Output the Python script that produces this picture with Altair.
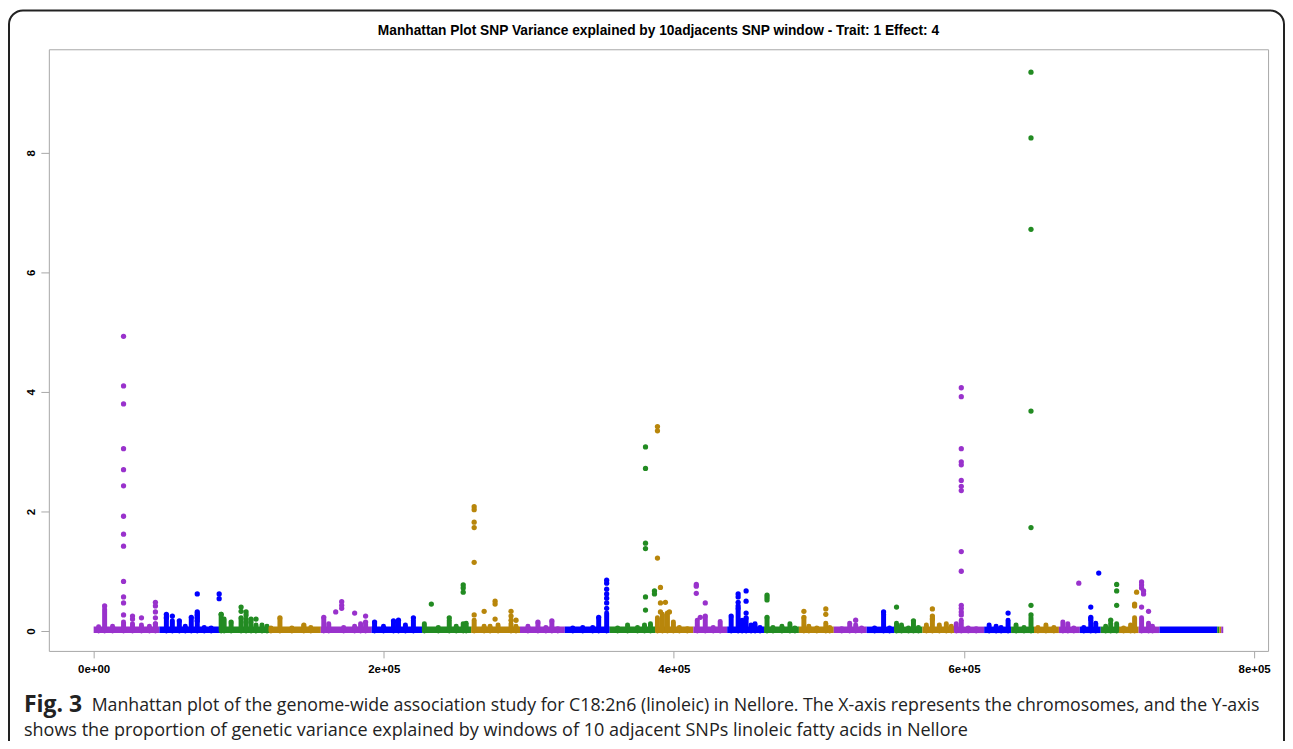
import altair as alt
import numpy as np
import pandas as pd

# ---- chromosome layout (cumulative SNP-window index) ----
chrom_start = [0, 45322, 87211, 121546, 156568, 191589, 226611, 260259, 293907, 324809,
               355711, 387299, 413393, 436741, 462149, 486184, 510218, 532879, 552107, 571334,
               593309, 613910, 632451, 648245, 665412, 679833, 694254, 706615, 720349, 734769,
               774598, 775971, 777345]
genome_end = 778718
palette = ["#9932CC", "#0000FF", "#228B22", "#B8860B"]
band_level = 0.02

# ---- dense columns of windows (top of each column) ----
stick_pos = [3434, 7554, 13047, 20601, 26781, 32962, 38455, 42575,
             50129, 54249, 59056, 63176, 67297, 71417, 76224, 81030,
             87898, 89958, 94765, 101632, 105065, 108499, 111932, 116052, 119486,
             122233, 128413, 136653, 144894, 149701,
             158628, 162061, 172361, 179915, 184036, 187469,
             193649, 199830, 206697, 210130, 214937, 220431,
             227984, 237598, 245152, 249959, 254766, 256826,
             262319, 269186, 273307, 278800, 287727, 291161,
             299401, 306268, 311762, 315882, 320002,
             330303, 337170, 344037, 348157, 353651,
             361204, 368071, 374938, 379745, 383865,
             388672, 392106, 395539, 399659, 403780, 409273,
             416140, 421634, 427127, 431934,
             439488, 444295, 447042, 449789, 453222, 455969, 459402,
             464209, 468329, 474510, 480003, 483437,
             489617, 493050, 498544, 504724, 507471,
             515712, 521205, 525326, 529446,
             538373, 544553, 548673,
             553480, 556914, 561721, 565154, 568588,
             574081, 578201, 583008, 587815, 591249,
             594682, 598116, 602923, 608416,
             617343, 622150, 625584, 630391,
             635884, 641378, 646185,
             650992, 656485, 661979,
             668159, 671593, 675713,
             682580, 687387, 690820,
             697687, 701121, 705241,
             710048, 714855, 717602,
             722409, 727216, 729963]
stick_top = [0.07, 0.37, 0.08, 0.15, 0.12, 0.10, 0.08, 0.12,
             0.25, 0.17, 0.15, 0.08, 0.20, 0.30, 0.06, 0.05,
             0.28, 0.20, 0.12, 0.20, 0.15, 0.18, 0.10, 0.10, 0.08,
             0.05, 0.20, 0.05, 0.08, 0.06,
             0.20, 0.12, 0.06, 0.08, 0.12, 0.12,
             0.13, 0.08, 0.15, 0.15, 0.10, 0.18,
             0.12, 0.06, 0.18, 0.08, 0.12, 0.13,
             0.18, 0.08, 0.08, 0.10, 0.12, 0.08,
             0.08, 0.13, 0.06, 0.15, 0.04,
             0.05, 0.06, 0.06, 0.20, 0.30,
             0.05, 0.10, 0.06, 0.10, 0.12,
             0.22, 0.28, 0.30, 0.15, 0.06, 0.04,
             0.18, 0.22, 0.06, 0.16,
             0.22, 0.35, 0.18, 0.20, 0.10, 0.12, 0.06,
             0.20, 0.06, 0.08, 0.12, 0.05,
             0.20, 0.08, 0.05, 0.13, 0.06,
             0.04, 0.13, 0.10, 0.05,
             0.05, 0.28, 0.05,
             0.13, 0.10, 0.05, 0.15, 0.06,
             0.10, 0.22, 0.10, 0.12, 0.08,
             0.12, 0.18, 0.05, 0.04,
             0.10, 0.08, 0.06, 0.18,
             0.10, 0.06, 0.22,
             0.06, 0.10, 0.06,
             0.15, 0.12, 0.05,
             0.06, 0.18, 0.13,
             0.08, 0.13, 0.12,
             0.05, 0.10, 0.22,
             0.22, 0.13, 0.08]

# ---- individual windows standing above the band ----
point_pos = ([20601] * 13 + [7554] + [26781] * 2 + [32962] + [42575] * 5 +
             [50129] * 2 + [54249] + [59056] + [67297] + [71417] * 5 + [86524] * 2 +
             [87898] + [94765] + [101632] * 3 + [105065] * 4 + [108499] + [111932] +
             [128413] + [144894] +
             [158628] + [166868] + [170988] * 3 + [179915] + [187469] * 2 +
             [193649] + [206697] + [210130] + [220431] +
             [232791] + [245152] + [254766] * 3 +
             [262319] * 6 + [269186] + [276740] * 3 + [287727] * 3 + [291161] +
             [306268] + [315882] +
             [348157] + [353651] * 7 +
             [380432] * 6 + [386612] * 2 +
             [388672] * 3 + [390732] * 3 + [394166] + [396913] +
             [415454] * 3 + [418200] + [421634] * 2 +
             [439488] + [444295] * 5 + [449789] * 4 +
             [464209] * 4 +
             [489617] * 2 + [504724] * 2 +
             [525326] + [544553] + [553480] + [565154] + [578201] * 3 +
             [598116] * 14 + [630391] + [646185] * 7 +
             [679146] + [687387] * 3 + [692880] +
             [701121] + [705241] * 3 +
             [717602] * 2 + [718975] +
             [722409] * 4 + [723782] * 2 + [727216])
point_val = [4.93, 4.10, 3.80, 3.05, 2.70, 2.43, 1.92, 1.62, 1.42, 0.83, 0.57, 0.47, 0.27,
             0.42, 0.25, 0.20, 0.22, 0.48, 0.42, 0.32, 0.22, 0.12,
             0.28, 0.22, 0.25, 0.17, 0.23, 0.62, 0.32, 0.27, 0.22, 0.17, 0.62, 0.54,
             0.28, 0.15, 0.40, 0.33, 0.22, 0.32, 0.27, 0.20, 0.15, 0.20, 0.20,
             0.22, 0.10,
             0.23, 0.32, 0.49, 0.43, 0.38, 0.30, 0.25, 0.15,
             0.15, 0.17, 0.18, 0.22,
             0.45, 0.22, 0.77, 0.72, 0.65,
             2.08, 2.03, 1.82, 1.73, 1.15, 0.27, 0.33, 0.50, 0.45, 0.20, 0.33, 0.25, 0.18, 0.18,
             0.15, 0.17,
             0.23, 0.85, 0.80, 0.70, 0.62, 0.55, 0.47, 0.38,
             3.08, 2.72, 1.47, 1.38, 0.57, 0.35, 0.67, 0.62,
             3.42, 3.35, 1.22, 0.73, 0.47, 0.32, 0.48, 0.32,
             0.78, 0.75, 0.63, 0.23, 0.47, 0.25,
             0.25, 0.62, 0.57, 0.48, 0.42, 0.38, 0.67, 0.50, 0.30, 0.22,
             0.60, 0.56, 0.52, 0.23,
             0.33, 0.23, 0.37, 0.28,
             0.18, 0.32, 0.40, 0.17, 0.37, 0.25, 0.20,
             4.07, 3.92, 3.05, 2.83, 2.78, 2.52, 2.42, 2.35, 1.33, 1.00, 0.43, 0.38, 0.32, 0.27,
             0.30, 9.35, 8.25, 6.72, 3.68, 1.73, 0.43, 0.27,
             0.80, 0.40, 0.23, 0.20, 0.97,
             0.18, 0.78, 0.67, 0.43,
             0.45, 0.42, 0.65,
             0.82, 0.77, 0.72, 0.40, 0.67, 0.62, 0.33]

x_ticks = [0, 200000, 400000, 600000, 800000]
y_ticks = [0, 2, 4, 6, 8]
x_domain = [-30901, 809614]
y_domain = [-0.333, 9.733]

title_text = "Manhattan Plot SNP Variance explained by 10adjacents SNP window - Trait: 1 Effect: 4"
caption_bold = "Fig. 3"
caption_line1 = ("Manhattan plot of the genome-wide association study for C18:2n6 (linoleic) in Nellore. "
                 "The X-axis represents the chromosomes, and the Y-axis")
caption_line2 = ("shows the proportion of genetic variance explained by windows of 10 adjacent SNPs "
                 "linoleic fatty acids in Nellore")

# ---- tables ----
starts = np.array(chrom_start)
ends = np.array(chrom_start[1:] + [genome_end])
band_df = pd.DataFrame({"pos": starts, "end": ends,
                        "val": band_level,
                        "ck": [str(i % 4) for i in range(len(starts))]})


def chrom_key(pos):
    idx = np.searchsorted(starts, np.array(pos), side="right") - 1
    return [str(i % 4) for i in idx]


stick_df = pd.DataFrame({"pos": stick_pos, "val": 0.0, "top": stick_top, "ck": chrom_key(stick_pos)})
point_df = pd.DataFrame({"pos": point_pos, "val": point_val, "ck": chrom_key(point_pos)})

xs = alt.Scale(domain=x_domain, nice=False, zero=False)
ys = alt.Scale(domain=y_domain, nice=False, zero=False)
cs = alt.Scale(domain=["0", "1", "2", "3"], range=palette)
LAB_FONT = "Liberation Sans"

x_axis = alt.Axis(values=x_ticks, title=None, grid=False, domain=False, tickColor="#a8a8a8",
                  tickSize=7, labelFont=LAB_FONT, labelFontSize=11.5, labelFontWeight="bold",
                  labelColor="#000000", labelPadding=6,
                  labelExpr="datum.value == 0 ? '0e+00' : format(datum.value / 100000, 'd') + 'e+05'")
y_axis = alt.Axis(values=y_ticks, title=None, grid=False, domain=False, tickColor="#a8a8a8",
                  tickSize=8, labelFont=LAB_FONT, labelFontSize=11.5, labelFontWeight="bold",
                  labelColor="#000000", labelAngle=270, labelPadding=4,
                  labelAlign="center", labelBaseline="bottom")

X = alt.X("pos:Q", scale=xs, axis=x_axis, title=None)
Y = alt.Y("val:Q", scale=ys, axis=y_axis, title=None)
C = alt.Color("ck:N", scale=cs, legend=None)

band = alt.Chart(band_df).mark_rule(strokeWidth=6.5, strokeCap="butt").encode(
    x=X, x2="end:Q", y=Y, color=C)

sticks = alt.Chart(stick_df).mark_rule(strokeWidth=5, strokeCap="round").encode(
    x=X, y=Y, y2="top:Q", color=C)

dots = alt.Chart(point_df).mark_circle(size=28, opacity=1).encode(x=X, y=Y, color=C)

one = pd.DataFrame({"a": [0]})
frame = alt.Chart(one).mark_rect(filled=False, stroke="#222222", strokeWidth=2, cornerRadius=14).encode(
    x=alt.value(-40), x2=alt.value(1240), y=alt.value(-39), y2=alt.value(745))

title = alt.Chart(one).mark_text(text=title_text, font=LAB_FONT, fontSize=13.8, fontWeight="bold",
                                 align="center", baseline="middle", color="#000000").encode(
    x=alt.value(612), y=alt.value(-18))

cap_b = alt.Chart(one).mark_text(text=caption_bold, font="Open Sans", fontSize=23, fontWeight="bold",
                                 align="left", baseline="middle", color="#222222").encode(
    x=alt.value(-25), y=alt.value(658))
cap_1 = alt.Chart(one).mark_text(text=caption_line1, font="Open Sans", fontSize=17.8,
                                 align="left", baseline="middle", color="#222222").encode(
    x=alt.value(43), y=alt.value(659))
cap_2 = alt.Chart(one).mark_text(text=caption_line2, font="Open Sans", fontSize=18.1,
                                 align="left", baseline="middle", color="#222222").encode(
    x=alt.value(-25), y=alt.value(684))

chart = alt.layer(band, sticks, dots, frame, title, cap_b, cap_1, cap_2).properties(
    width=1224, height=604,
    padding={"left": 41, "top": 40, "right": 17, "bottom": 89},
    autosize=alt.AutoSizeParams(type="none"),
    background="white",
).configure_view(stroke="#a8a8a8", strokeWidth=1)

chart.save("out.html", embed_options={"renderer": "svg", "actions": False})
